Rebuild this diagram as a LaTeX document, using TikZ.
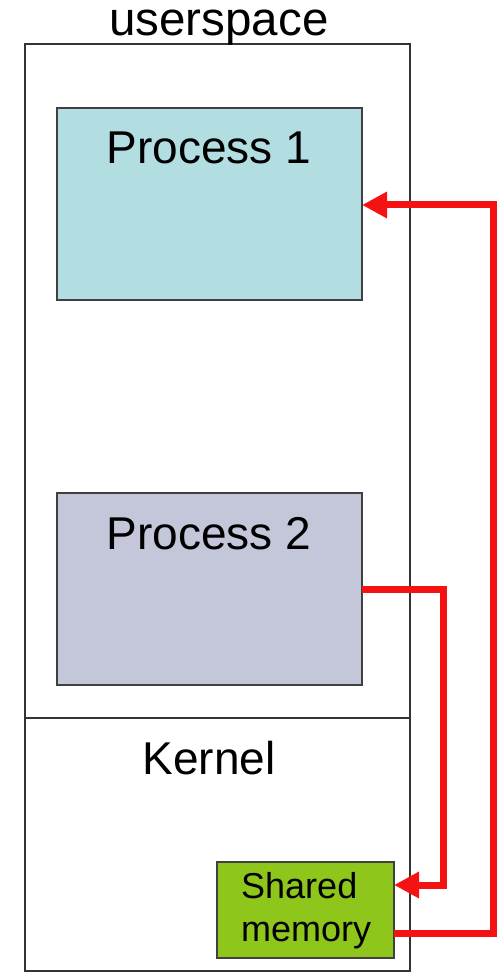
\documentclass[tikz,border=0pt]{standalone}
\usepackage{fontspec}
\setmainfont{Liberation Sans}
\usetikzlibrary{arrows.meta}
\definecolor{procone}{RGB}{178,222,226}
\definecolor{proctwo}{RGB}{196,198,218}
\definecolor{shmgreen}{RGB}{142,198,28}
\definecolor{linkred}{RGB}{245,18,18}
\begin{document}
\begin{tikzpicture}[x=1pt,y=-1pt,
  region/.style={draw=black!80, line width=1.6pt, inner sep=0pt, outer sep=0pt, anchor=north west},
  procbox/.style={draw=black!75, line width=1.8pt, inner sep=0pt, outer sep=0pt, anchor=north west,
                  minimum width=305pt, minimum height=192pt},
  bigtext/.style={font=\fontsize{46}{52}\selectfont, anchor=base, inner sep=0pt},
  smalltext/.style={font=\fontsize{36}{42}\selectfont, anchor=base west, inner sep=0pt},
  link/.style={draw=linkred, line width=7pt},
  linkarrow/.style={link, -{Triangle[length=25pt, width=25pt]}}]
  \useasboundingbox (0,0) rectangle (501,973);

  % userspace / kernel frame
  \node[region, minimum width=385pt, minimum height=927pt] (frame) at (25,44) {};
  \coordinate (divl) at (25,718);
  \coordinate (divr) at (410,718);
  \draw[draw=black!80, line width=1.6pt] (divl) -- (divr);
  \node[bigtext, font=\fontsize{47.5}{52}\selectfont] (ulabel) at (219,36) {userspace};
  \node[bigtext] (klabel) at (209,774) {Kernel};

  % processes
  \node[procbox, fill=procone] (p1) at (57,108) {};
  \node[bigtext] (p1label) at (209,164) {Process 1};
  \node[procbox, fill=proctwo] (p2) at (57,493) {};
  \node[bigtext] (p2label) at (209,549) {Process 2};

  % shared memory segment
  \node[procbox, fill=shmgreen, minimum width=177pt, minimum height=96pt] (shm) at (217,862) {};
  \node[smalltext] (shmtop) at (241,898) {Shared};
  \node[smalltext] (shmbot) at (241,941) {memory};

  % links
  \coordinate (outA) at ([yshift=-23pt]shm.east);
  \coordinate (inB) at ([yshift=25pt]shm.east);
  \coordinate (c1) at (493,933);
  \coordinate (c2) at (493,205);
  \coordinate (c3) at (443,589);
  \coordinate (c4) at (443,885);
  \draw[linkarrow] (outA) -- (c1) -- (c2) -- (p1.east |- c2);
  \draw[linkarrow] (p2.east |- c3) -- (c3) -- (c4) -- (inB);
\end{tikzpicture}
\end{document}
